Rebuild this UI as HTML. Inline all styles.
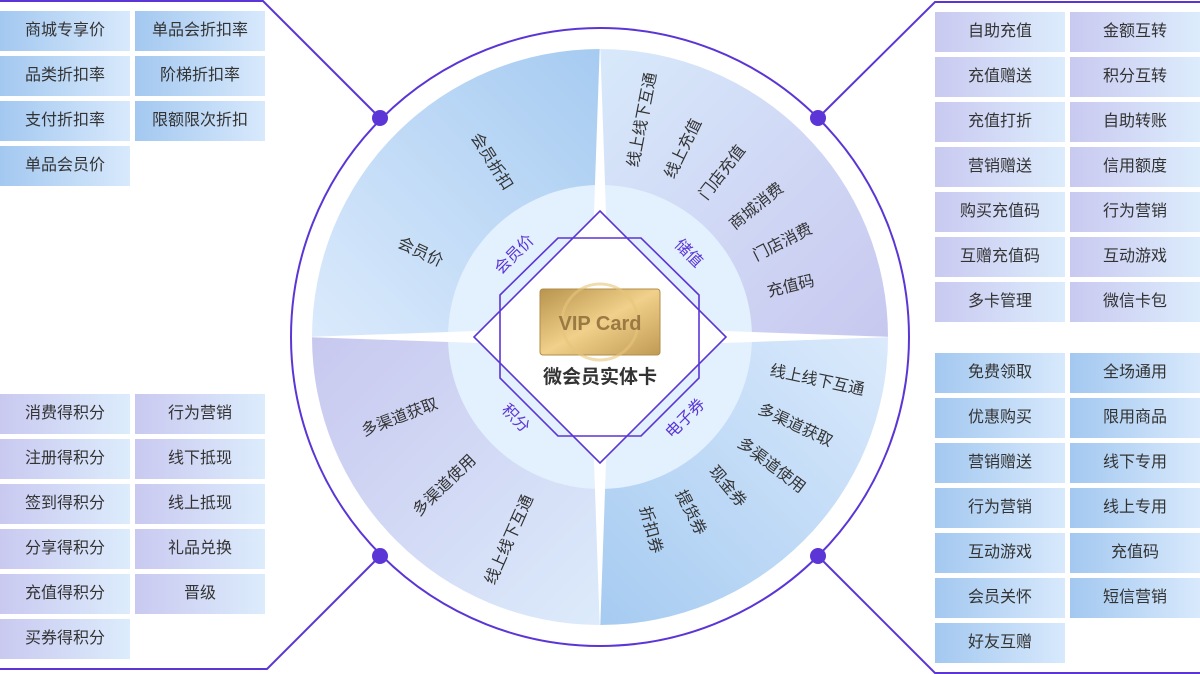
<!DOCTYPE html>
<html><head><meta charset="utf-8"><style>
body{margin:0;width:1200px;height:674px;overflow:hidden;background:#fff;font-family:"Liberation Sans","Noto Sans CJK SC",sans-serif;}
.b{position:absolute;width:130px;height:40px;line-height:40px;text-align:center;font-size:16px;color:#333;}
.bl{background:linear-gradient(90deg,#a3c8f0,#d8e9fc);}
.lv{background:linear-gradient(90deg,#c9c9f0,#dcecfc);}
svg{position:absolute;left:0;top:0;}
</style></head><body>
<svg width="1200" height="674" viewBox="0 0 1200 674">
<defs>
<linearGradient id="gTL" x1="312" y1="337" x2="600" y2="50" gradientUnits="userSpaceOnUse"><stop offset="0" stop-color="#dbeafc"/><stop offset="1" stop-color="#a6cbf1"/></linearGradient>
<linearGradient id="gTR" x1="600" y1="50" x2="888" y2="337" gradientUnits="userSpaceOnUse"><stop offset="0" stop-color="#d8e9fb"/><stop offset="1" stop-color="#c8c8ef"/></linearGradient>
<linearGradient id="gBR" x1="888" y1="337" x2="600" y2="625" gradientUnits="userSpaceOnUse"><stop offset="0" stop-color="#dbeafc"/><stop offset="1" stop-color="#a6cbf1"/></linearGradient>
<linearGradient id="gBL" x1="312" y1="337" x2="600" y2="625" gradientUnits="userSpaceOnUse"><stop offset="0" stop-color="#c8c8ef"/><stop offset="1" stop-color="#dcebfb"/></linearGradient>
<linearGradient id="gold" x1="0" y1="0" x2="1" y2="1"><stop offset="0" stop-color="#b8944e"/><stop offset="0.5" stop-color="#f0d08a"/><stop offset="1" stop-color="#c09a55"/></linearGradient>
</defs>
<g stroke="#5b35d5" stroke-width="2" fill="none">
<circle cx="600" cy="337" r="309"/>
<polyline points="0,1 263,1 380,118"/>
<polyline points="1200,2 935,2 818,118"/>
<polyline points="1200,673 935,673 818,556"/>
<polyline points="0,669 267,669 380,556"/>
</g>
<path d="M600,337 L312,337 A288,288 0 0 1 600,49 Z" fill="url(#gTL)"/>
<path d="M600,337 L600,49 A288,288 0 0 1 888,337 Z" fill="url(#gTR)"/>
<path d="M600,337 L888,337 A288,288 0 0 1 600,625 Z" fill="url(#gBR)"/>
<path d="M600,337 L600,625 A288,288 0 0 1 312,337 Z" fill="url(#gBL)"/>
<circle cx="600" cy="337" r="152" fill="#e3f0fd"/>
<polygon points="600,40 610,327 895,337 610,347 600,634 590,347 305,337 590,327" fill="#fff"/>
<polygon points="600,211 726,337 600,463 474,337" fill="#fff"/>
<g fill="#5b35d5"><circle cx="380" cy="118" r="8"/><circle cx="818" cy="118" r="8"/><circle cx="380" cy="556" r="8"/><circle cx="818" cy="556" r="8"/></g>
<g stroke="#5b35d5" stroke-width="1.6" fill="none">
<polygon points="558,238 641,238 699,295 699,378 641,436 558,436 500,378 500,295"/>
<polygon points="600,211 726,337 600,463 474,337"/>
</g>
<rect x="540" y="289" width="120" height="66" rx="3" fill="url(#gold)" stroke="#b08d48"/>
<circle cx="600" cy="322" r="38" fill="none" stroke="#e8c47a" stroke-width="3" opacity="0.6"/>
<text x="600" y="330" text-anchor="middle" font-size="20" font-weight="bold" fill="#9a7a42" font-family="Liberation Sans,sans-serif">VIP Card</text>
<text x="600" y="383" text-anchor="middle" font-size="19" font-weight="bold" fill="#333">微会员实体卡</text>
<g font-size="16" fill="#5b35d5" text-anchor="middle" dominant-baseline="middle">
<text transform="translate(515,255) rotate(-45)">会员价</text>
<text transform="translate(688,254) rotate(45)">储值</text>
<text transform="translate(515,419) rotate(45)">积分</text>
<text transform="translate(686,419) rotate(-45)">电子券</text>
</g>
<g font-size="16" fill="#333" text-anchor="middle" dominant-baseline="middle">
<text transform="translate(491,162) rotate(58)">会员折扣</text>
<text transform="translate(420,253) rotate(25)">会员价</text>
<text transform="translate(643,120) rotate(-79)">线上线下互通</text>
<text transform="translate(684,149) rotate(-64)">线上充值</text>
<text transform="translate(723,173) rotate(-52)">门店充值</text>
<text transform="translate(757,207) rotate(-39)">商城消费</text>
<text transform="translate(783,243) rotate(-27)">门店消费</text>
<text transform="translate(791,287) rotate(-14)">充值码</text>
<text transform="translate(817,381) rotate(12)">线上线下互通</text>
<text transform="translate(795,426) rotate(25)">多渠道获取</text>
<text transform="translate(771,466) rotate(37)">多渠道使用</text>
<text transform="translate(727,487) rotate(50)">现金券</text>
<text transform="translate(690,513) rotate(63)">提货券</text>
<text transform="translate(650,530) rotate(75)">折扣券</text>
<text transform="translate(400,418) rotate(-21)">多渠道获取</text>
<text transform="translate(445,486) rotate(-44)">多渠道使用</text>
<text transform="translate(510,540) rotate(-66)">线上线下互通</text>
</g>
</svg>
<div class="b bl" style="left:0;top:11px">商城专享价</div>
<div class="b bl" style="left:135px;top:11px">单品会折扣率</div>
<div class="b bl" style="left:0;top:56px">品类折扣率</div>
<div class="b bl" style="left:135px;top:56px">阶梯折扣率</div>
<div class="b bl" style="left:0;top:101px">支付折扣率</div>
<div class="b bl" style="left:135px;top:101px">限额限次折扣</div>
<div class="b bl" style="left:0;top:146px">单品会员价</div>

<div class="b lv" style="left:935px;top:12px">自助充值</div>
<div class="b lv" style="left:1070px;top:12px">金额互转</div>
<div class="b lv" style="left:935px;top:57px">充值赠送</div>
<div class="b lv" style="left:1070px;top:57px">积分互转</div>
<div class="b lv" style="left:935px;top:102px">充值打折</div>
<div class="b lv" style="left:1070px;top:102px">自助转账</div>
<div class="b lv" style="left:935px;top:147px">营销赠送</div>
<div class="b lv" style="left:1070px;top:147px">信用额度</div>
<div class="b lv" style="left:935px;top:192px">购买充值码</div>
<div class="b lv" style="left:1070px;top:192px">行为营销</div>
<div class="b lv" style="left:935px;top:237px">互赠充值码</div>
<div class="b lv" style="left:1070px;top:237px">互动游戏</div>
<div class="b lv" style="left:935px;top:282px">多卡管理</div>
<div class="b lv" style="left:1070px;top:282px">微信卡包</div>

<div class="b bl" style="left:935px;top:353px">免费领取</div>
<div class="b bl" style="left:1070px;top:353px">全场通用</div>
<div class="b bl" style="left:935px;top:398px">优惠购买</div>
<div class="b bl" style="left:1070px;top:398px">限用商品</div>
<div class="b bl" style="left:935px;top:443px">营销赠送</div>
<div class="b bl" style="left:1070px;top:443px">线下专用</div>
<div class="b bl" style="left:935px;top:488px">行为营销</div>
<div class="b bl" style="left:1070px;top:488px">线上专用</div>
<div class="b bl" style="left:935px;top:533px">互动游戏</div>
<div class="b bl" style="left:1070px;top:533px">充值码</div>
<div class="b bl" style="left:935px;top:578px">会员关怀</div>
<div class="b bl" style="left:1070px;top:578px">短信营销</div>
<div class="b bl" style="left:935px;top:623px">好友互赠</div>

<div class="b lv" style="left:0;top:394px">消费得积分</div>
<div class="b lv" style="left:135px;top:394px">行为营销</div>
<div class="b lv" style="left:0;top:439px">注册得积分</div>
<div class="b lv" style="left:135px;top:439px">线下抵现</div>
<div class="b lv" style="left:0;top:484px">签到得积分</div>
<div class="b lv" style="left:135px;top:484px">线上抵现</div>
<div class="b lv" style="left:0;top:529px">分享得积分</div>
<div class="b lv" style="left:135px;top:529px">礼品兑换</div>
<div class="b lv" style="left:0;top:574px">充值得积分</div>
<div class="b lv" style="left:135px;top:574px">晋级</div>
<div class="b lv" style="left:0;top:619px">买券得积分</div>
</body></html>
